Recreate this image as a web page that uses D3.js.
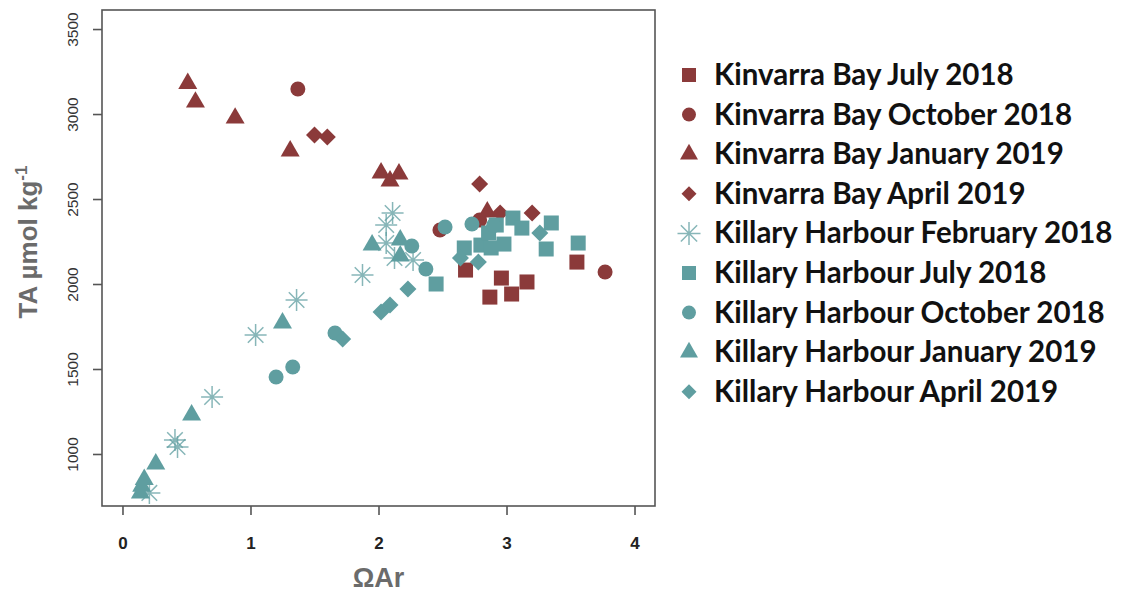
<!DOCTYPE html>
<html>
<head>
<meta charset="utf-8">
<script src="https://cdn.jsdelivr.net/npm/d3@7"></script>
<style>
  html, body { margin: 0; padding: 0; background: #fff; }
  svg { display: block; }
</style>
</head>
<body>
<svg id="chart" width="1129" height="595"></svg>
<script>
// Total alkalinity vs aragonite saturation state, two sites, several surveys.

const xTicks = [0, 1, 2, 3, 4];
const yTicks = [1000, 1500, 2000, 2500, 3000, 3500];

const seriesNames = [
  "Kinvarra Bay July 2018",
  "Kinvarra Bay October 2018",
  "Kinvarra Bay January 2019",
  "Kinvarra Bay April 2019",
  "Killary Harbour February 2018",
  "Killary Harbour July 2018",
  "Killary Harbour October 2018",
  "Killary Harbour January 2019",
  "Killary Harbour April 2019"
];

// [ΩAr, TA]
const kinvarraJul18 = [[2.68, 2082], [2.96, 2035], [3.16, 2012], [2.87, 1923], [3.04, 1941], [3.55, 2129]];
const kinvarraOct18 = [[1.37, 3147], [2.48, 2318], [2.79, 2376], [3.77, 2071]];
const kinvarraJan19 = [[0.51, 3180], [0.57, 3070], [0.88, 2976], [1.31, 2782], [2.02, 2653], [2.09, 2606], [2.16, 2647], [2.85, 2424]];
const kinvarraApr19 = [[1.50, 2876], [1.60, 2865], [2.79, 2588], [2.95, 2418], [3.20, 2418]];
const killaryFeb18 = [[0.21, 771], [0.41, 1082], [0.43, 1041], [0.70, 1335], [1.04, 1700], [1.36, 1906], [1.875, 2053], [2.06, 2347], [2.11, 2418], [2.06, 2241], [2.125, 2153], [2.27, 2141]];
const killaryJul18 = [[2.45, 2000], [2.67, 2212], [2.80, 2229], [2.88, 2212], [2.98, 2235], [2.92, 2347], [2.86, 2300], [3.05, 2388], [3.12, 2329], [3.31, 2206], [3.35, 2359], [3.56, 2241]];
const killaryOct18 = [[1.20, 1453], [1.33, 1512], [1.66, 1712], [2.26, 2224], [2.37, 2088], [2.52, 2335], [2.73, 2353], [2.90, 2345]];
const killaryJan19 = [[0.14, 770], [0.15, 810], [0.17, 850], [0.26, 941], [0.54, 1229], [1.25, 1771], [1.95, 2229], [2.17, 2259], [2.17, 2165]];
const killaryApr19 = [[1.72, 1676], [2.02, 1835], [2.09, 1876], [2.23, 1970], [2.64, 2153], [2.78, 2129], [3.26, 2300]];

const seriesData = [kinvarraJul18, kinvarraOct18, kinvarraJan19, kinvarraApr19,
                    killaryFeb18, killaryJul18, killaryOct18, killaryJan19, killaryApr19];

const red = "#8B3A3A";
const teal = "#5F9EA0";
const seriesColor = [red, red, red, red, teal, teal, teal, teal, teal];
const seriesShape = ["square", "circle", "triangle", "diamond", "asterisk", "square", "circle", "triangle", "diamond"];

const svg = d3.select("#chart");

const box = { left: 102, top: 10, right: 655, bottom: 506 };

const x = d3.scaleLinear().domain([-0.16, 4.16]).range([box.left, box.right]);
const y = d3.scaleLinear().domain([694, 3612]).range([box.bottom, box.top]);

// Marker paths centred on the origin
function shapePath(shape, s) {
  const p = d3.path();
  if (shape === "square") {
    const h = s / 2;
    p.rect(-h, -h, s, s);
  } else if (shape === "circle") {
    p.arc(0, 0, s / 2, 0, 2 * Math.PI);
  } else if (shape === "triangle") {
    const h = s * Math.sqrt(3) / 2;
    p.moveTo(0, -h * 2 / 3);
    p.lineTo(s / 2, h / 3);
    p.lineTo(-s / 2, h / 3);
    p.closePath();
  } else if (shape === "diamond") {
    const h = s / 2;
    p.moveTo(0, -h); p.lineTo(h, 0); p.lineTo(0, h); p.lineTo(-h, 0); p.closePath();
  } else if (shape === "asterisk") {
    const r = s / 2;
    for (let i = 0; i < 4; i++) {
      const a = i * Math.PI / 4;
      p.moveTo(-r * Math.cos(a), -r * Math.sin(a));
      p.lineTo(r * Math.cos(a), r * Math.sin(a));
    }
  }
  return p.toString();
}

const plotSize = { square: 15, circle: 15, triangle: 19, diamond: 17, asterisk: 22 };
const legendSize = { square: 14, circle: 14, triangle: 18, diamond: 15, asterisk: 23 };

function drawMarker(g, shape, color, s) {
  const el = g.append("path").attr("d", shapePath(shape, s));
  if (shape === "asterisk") {
    el.attr("fill", "none").attr("stroke", color).attr("stroke-width", 1.5).attr("stroke-opacity", 0.75);
  } else {
    el.attr("fill", color);
  }
  return el;
}

// Points
const pts = svg.append("g");
seriesData.forEach((data, i) => {
  data.forEach(d => {
    const g = pts.append("g").attr("transform", `translate(${x(d[0])},${y(d[1])})`);
    drawMarker(g, seriesShape[i], seriesColor[i], plotSize[seriesShape[i]]);
  });
});

// Frame
svg.append("rect")
  .attr("x", box.left).attr("y", box.top)
  .attr("width", box.right - box.left).attr("height", box.bottom - box.top)
  .attr("fill", "none").attr("stroke", "#555").attr("stroke-width", 1.6);

// Axes
const xAxis = d3.axisBottom(x).tickValues(xTicks).tickSize(9).tickFormat(d3.format("d"));
const gx = svg.append("g").attr("transform", `translate(0,${box.bottom})`).call(xAxis);
gx.select(".domain").remove();
gx.selectAll(".tick line").attr("stroke", "#555").attr("stroke-width", 1.6);
gx.selectAll(".tick text")
  .attr("y", 43).attr("dy", null)
  .style("font-family", "Liberation Sans, Arial, sans-serif")
  .style("font-size", "17px").style("font-weight", "bold").attr("fill", "#222");

const yAxis = d3.axisLeft(y).tickValues(yTicks).tickSize(9).tickFormat(d3.format("d"));
const gy = svg.append("g").attr("transform", `translate(${box.left},0)`).call(yAxis);
gy.select(".domain").remove();
gy.selectAll(".tick line").attr("stroke", "#555").attr("stroke-width", 1.6);
gy.selectAll(".tick text")
  .style("font-family", "Liberation Sans, Arial, sans-serif")
  .style("font-size", "15.5px").attr("fill", "#333")
  .attr("x", null).attr("dy", null)
  .attr("transform", "translate(-28,0) rotate(-90)")
  .attr("text-anchor", "middle")
  .attr("dominant-baseline", "middle");

// Axis titles
svg.append("text")
  .attr("x", x(2)).attr("y", 587)
  .attr("text-anchor", "middle")
  .attr("font-family", "Liberation Sans, Arial, sans-serif")
  .attr("font-size", 27).attr("font-weight", "bold").attr("fill", "#6b6b6b")
  .text("ΩAr");

const yt = svg.append("text")
  .attr("transform", `translate(37,${242}) rotate(-90)`)
  .attr("text-anchor", "middle")
  .attr("font-family", "Liberation Sans, Arial, sans-serif")
  .attr("font-size", 26).attr("font-weight", "bold").attr("fill", "#6b6b6b");
yt.append("tspan").text("TA µmol kg");
yt.append("tspan").attr("dy", -10).attr("font-size", 17).text("-1");

// Legend
const legend = svg.append("g");
seriesNames.forEach((name, i) => {
  const cy = 75 + i * 39.6;
  const g = legend.append("g").attr("transform", `translate(689,${cy})`);
  drawMarker(g, seriesShape[i], seriesColor[i], legendSize[seriesShape[i]]);
  legend.append("text")
    .attr("x", 714).attr("y", cy + 10)
    .attr("font-family", "Lato, sans-serif")
    .attr("font-size", 29.5).attr("font-weight", "bold").attr("fill", "#111")
    .text(name);
});
</script>
</body>
</html>
